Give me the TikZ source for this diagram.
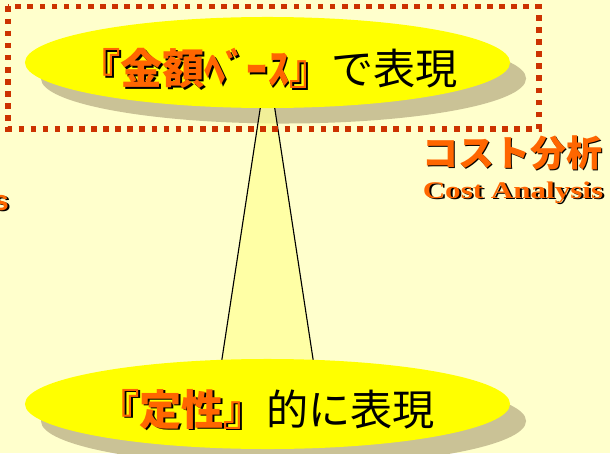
\documentclass[tikz,border=0pt]{standalone}
\usepackage{fontspec}
\setmainfont{Liberation Serif}
\newfontfamily\jpfont{Noto Sans CJK JP}
\newfontfamily\latinsans{Liberation Sans}
\usepackage{tikz}
\usetikzlibrary{shapes.geometric}
\definecolor{paper}{RGB}{255,255,204}
\definecolor{hot}{RGB}{255,102,0}
\definecolor{brick}{RGB}{204,51,0}
\definecolor{lemon}{RGB}{255,255,0}
\definecolor{pale}{RGB}{255,255,153}
\definecolor{sand}{RGB}{202,194,150}
\newcommand{\shadowed}[1]{\makebox[0pt][l]{\kern1.4pt\raisebox{-1.4pt}{\color{black}#1}}{\color{hot}#1}}

\begin{document}
\begin{tikzpicture}[x=0.025cm, y=-0.025cm,
	disc/.style={shape=ellipse, fill=lemon, inner sep=0pt, minimum width=12.125cm, minimum height=2.25cm},
	discshadow/.style={disc, fill=sand},
	bigtext/.style={anchor=base, inner sep=0pt, font=\jpfont\fontsize{30}{32}\selectfont}]
	\fill [paper] (0,0) rectangle (610,453);
	\useasboundingbox (0,0) rectangle (610,453);

	\node (kingakushadow) at (283.5,78.5) [discshadow] {};
	\node (teiseishadow) at (283.5,421) [discshadow] {};

	\coordinate (conetl) at (261.5,100);
	\coordinate (conetr) at (273.5,100);
	\coordinate (conebl) at (220.3,370);
	\coordinate (conebr) at (314.7,370);
	\fill [pale, opacity=0.75] (conetl) -- (conetr) -- (conebr) -- (conebl) -- cycle;
	\path 	[-, black, line width=0.8pt]	(conetl) 	edge 	(conebl)
			(conetr)	edge	(conebr);

	\node (kingaku) at (267.5,62.5) [disc, minimum height=2.275cm] {};
	\node (teisei) at (267.5,404) [disc] {};

	\node (kingakutext) at (268,85) [bigtext] {\shadowed{\bfseries 『金額ﾍﾞｰｽ』}で表現};
	\node (teiseitext) at (266,425) [bigtext] {\shadowed{\bfseries 『定性』}的に表現};

	\draw [brick, line width=4pt, dash pattern=on 4pt off 4.6pt] (8,6.5) rectangle (539,129);

	\node (bunseki) at (512,166) [anchor=base, inner sep=0pt, font=\jpfont\bfseries\fontsize{25.6}{28}\selectfont] {\shadowed{コスト分析}};
	\node (costen) at (513,198) [anchor=base, inner sep=0pt, font=\bfseries\fontsize{17}{20}\selectfont] {\shadowed{\scalebox{1.3}[1]{Cost Analysis}}};
	\node (stub) at (9,210) [anchor=base east, inner sep=0pt, font=\latinsans\bfseries\fontsize{20}{22}\selectfont] {\shadowed{s}};
\end{tikzpicture}
\end{document}
